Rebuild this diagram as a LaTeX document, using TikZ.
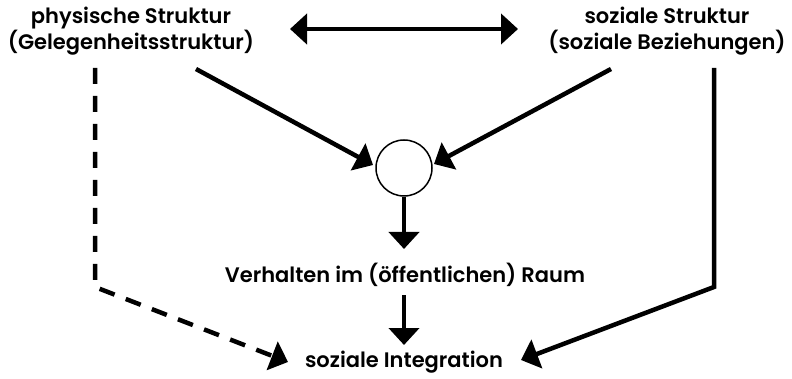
\documentclass[tikz,border=0pt]{standalone}
\usepackage{fontspec}
\setmainfont{Poppins}[UprightFont={* SemiBold}]
\usetikzlibrary{arrows.meta}
\begin{document}
\begin{tikzpicture}[x=1pt,y=-1pt,
  lbl/.style={font=\fontsize{21}{26}\selectfont, align=center, inner sep=0pt},
  arr/.style={line width=4.5pt, -{Triangle[length=17pt,width=30pt]}},
  darr/.style={arr, dash pattern=on 16pt off 12pt}]
\useasboundingbox (0,0) rectangle (792,379);
\node[lbl] (phys) at (131,31) {physische Struktur\\(Gelegenheitsstruktur)};
\node[lbl] (soz) at (667,31) {soziale Struktur\\(soziale Beziehungen)};
\node[draw, circle, line width=1.5pt, minimum size=56pt, inner sep=0pt] (c) at (404,168) {};
\node[lbl] (verh) at (405,275) {Verhalten im (öffentlichen) Raum};
\node[lbl] (int) at (404,362) {soziale Integration};
\coordinate (dl) at (290,29);
\coordinate (dr) at (518,29);
\draw[line width=4.5pt, {Triangle[length=17pt,width=30pt]}-{Triangle[length=17pt,width=30pt]}] (dl) -- (dr);
\coordinate (p1) at (196,69);
\coordinate (s1) at (611,69);
\coordinate (pt) at (373,165);
\coordinate (st) at (434,164);
\draw[arr] (p1) -- (pt);
\draw[arr] (s1) -- (st);
\coordinate (v0) at (404,249);
\coordinate (i0) at (404,345);
\coordinate (v1) at (404,295);
\draw[arr] (c.south) -- (v0);
\draw[arr] (v1) -- (i0);
\coordinate (pd) at (95,68);
\coordinate (pc) at (95,287);
\coordinate (sd) at (714,68);
\coordinate (sc) at (714,287);
\draw[darr, line join=miter] (pd) -- (pc) -- (288,362);
\draw[arr, line join=miter] (sd) -- (sc) -- (521,360);
\end{tikzpicture}
\end{document}
